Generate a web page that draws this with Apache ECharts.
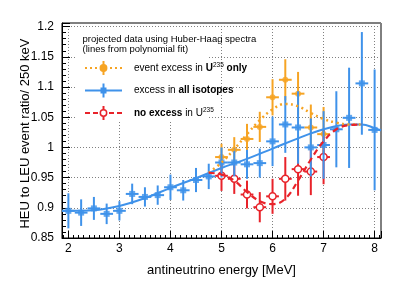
<!DOCTYPE html>
<html>
<head>
<meta charset="utf-8">
<script src="https://cdn.jsdelivr.net/npm/echarts@6/dist/echarts.min.js"></script>
<style>
html,body{margin:0;padding:0;background:#fff;}
#c{width:415px;height:281px;}
</style>
</head>
<body>
<div id="c"></div>
<script>
// ---- data ----
const energies = [2.0, 2.25, 2.5, 2.75, 3.0, 3.25, 3.5, 3.75, 4.0, 4.25, 4.5, 4.75, 5.0, 5.25, 5.5, 5.75, 6.0, 6.25, 6.5, 6.75, 7.0, 7.25, 7.5, 7.75, 8.0];
const allIsotopes = [0.895, 0.892, 0.899, 0.890, 0.895, 0.923, 0.918, 0.921, 0.934, 0.929, 0.946, 0.952, 0.975, 0.975, 0.972, 0.974, 1.010, 1.038, 1.033, 1.000, 1.004, 1.030, 1.049, 1.106, 1.029];
const allIsotopesErr = [0.029, 0.022, 0.019, 0.017, 0.016, 0.017, 0.016, 0.016, 0.021, 0.017, 0.020, 0.021, 0.025, 0.023, 0.024, 0.024, 0.041, 0.047, 0.060, 0.048, 0.056, 0.063, 0.083, 0.085, 0.100];

const excessEnergies = [5.0, 5.25, 5.5, 5.75, 6.0, 6.25, 6.5, 6.75, 7.0];
const u235Only = [0.984, 0.996, 1.014, 1.034, 1.083, 1.112, 1.089, 1.033, 1.022];
const u235OnlyErr = [0.022, 0.021, 0.025, 0.025, 0.030, 0.034, 0.036, 0.038, 0.045];
const noExcess = [0.953, 0.948, 0.922, 0.901, 0.919, 0.948, 0.964, 0.960, 0.984];
const noExcessErr = [0.025, 0.025, 0.023, 0.025, 0.029, 0.036, 0.044, 0.039, 0.045];

const binHalfWidth = 0.125;

// polynomial-fit curves
const fitAllX = [1.875, 2.0, 2.5, 3.0, 3.5, 4.0, 4.5, 5.0, 5.5, 6.0, 6.5, 7.0, 7.5, 7.75, 8.0, 8.125];
const fitAll  = [0.895, 0.895, 0.896, 0.903, 0.916, 0.933, 0.949, 0.966, 0.981, 0.998, 1.015, 1.030, 1.038, 1.038, 1.032, 1.028];
const fitU235X = [4.75, 5.0, 5.25, 5.5, 5.75, 6.0, 6.25, 6.5, 6.75, 7.0, 7.25, 7.5, 7.75];
const fitU235  = [0.958, 0.975, 0.997, 1.022, 1.045, 1.063, 1.072, 1.068, 1.057, 1.047, 1.041, 1.038, 1.038];
const fitNoX = [4.75, 5.0, 5.25, 5.5, 5.75, 6.0, 6.25, 6.5, 6.75, 7.0, 7.25, 7.5, 7.75];
const fitNo  = [0.958, 0.955, 0.945, 0.926, 0.911, 0.906, 0.915, 0.945, 0.980, 1.010, 1.030, 1.037, 1.038];

const yTicks = ['0.85', '0.9', '0.95', '1', '1.05', '1.1', '1.15', '1.2'];
const xTicks = ['2', '3', '4', '5', '6', '7', '8'];

const headerLines = ['projected data using Huber-Haag spectra', '(lines from polynomial fit)'];
const xTitle = 'antineutrino energy [MeV]';
const yTitle = 'HEU to LEU event ratio/ 250 keV';

// ---- styles ----
const BLUE = '#3f92ea';
const ORANGE = '#f6a424';
const RED = '#e8232a';
const FONT = '"Liberation Sans", Arial, Helvetica, sans-serif';

function zip3(xs, ys, es) { return xs.map((x, i) => [x, ys[i], es[i]]); }
function zip2(xs, ys) { return xs.map((x, i) => [x, ys[i]]); }

function errRender(color) {
  return function (params, api) {
    const x = api.value(0), y = api.value(1), e = api.value(2);
    const l = api.coord([x - binHalfWidth, y]), r = api.coord([x + binHalfWidth, y]);
    const t = api.coord([x, y + e]), b = api.coord([x, y - e]);
    return {
      type: 'group',
      children: [
        { type: 'line', shape: { x1: l[0], y1: l[1], x2: r[0], y2: r[1] }, style: { stroke: color, lineWidth: 2 } },
        { type: 'line', shape: { x1: t[0], y1: t[1], x2: b[0], y2: b[1] }, style: { stroke: color, lineWidth: 2 } }
      ]
    };
  };
}

const chart = echarts.init(document.getElementById('c'), null, { renderer: 'canvas' });

const legendRows = [
  { y: 68, color: ORANGE, lineType: [2, 3], symbol: 'circle', fill: ORANGE, text: '{n|event excess in }{b|U}{sup|235}{b| only}' },
  { y: 90.5, color: BLUE, lineType: 'solid', symbol: 'rect', fill: BLUE, text: '{n|excess in }{b|all isotopes}' },
  { y: 113, color: RED, lineType: [5, 3], symbol: 'circle', fill: '#fff', text: '{b|no excess}{n| in U}{sup|235}' }
];

const rich = {
  n: { fontSize: 10, fontFamily: FONT, color: '#000' },
  b: { fontSize: 10, fontFamily: FONT, fontWeight: 'bold', color: '#000' },
  sup: { fontSize: 6.5, fontFamily: FONT, color: '#000', padding: [0, 0, 6, 0] }
};

const graphics = [
  { type: 'rect', z: 1, shape: { x: 75, y: 29, width: 132, height: 92 }, style: { fill: '#fff' } },
  { type: 'text', z: 5, x: 82.5, y: 39, style: { text: headerLines[0], font: '9.5px ' + FONT, fill: '#000', verticalAlign: 'middle' } },
  { type: 'text', z: 5, x: 82.5, y: 49.5, style: { text: headerLines[1], font: '9.5px ' + FONT, fill: '#000', verticalAlign: 'middle' } },
  { type: 'text', z: 5, x: 221.5, y: 270, style: { text: xTitle, font: '13px ' + FONT, fill: '#000', align: 'center', verticalAlign: 'middle' } },
  { type: 'text', z: 5, x: 25.5, y: 133.5, rotation: Math.PI / 2, style: { text: yTitle, font: '13px ' + FONT, fill: '#000', align: 'center', verticalAlign: 'middle' } }
];
legendRows.forEach(r => {
  graphics.push({ type: 'line', z: 5, shape: { x1: 85, y1: r.y, x2: 122, y2: r.y }, style: { stroke: r.color, lineWidth: 2, lineDash: r.lineType === 'solid' ? null : r.lineType } });
  graphics.push({ type: 'line', z: 5, shape: { x1: 103.5, y1: r.y - 7, x2: 103.5, y2: r.y + 7 }, style: { stroke: r.color, lineWidth: 2 } });
  if (r.symbol === 'rect') {
    graphics.push({ type: 'rect', z: 6, shape: { x: 100.5, y: r.y - 3, width: 6, height: 6 }, style: { fill: r.fill } });
  } else {
    graphics.push({ type: 'circle', z: 6, shape: { cx: 103.5, cy: r.y, r: 3.2 }, style: { fill: r.fill, stroke: r.color, lineWidth: 1.5 } });
  }
  graphics.push({ type: 'text', z: 5, x: 134, y: r.y, style: { text: r.text, rich: rich, verticalAlign: 'middle' } });
});

const option = {
  animation: false,
  backgroundColor: '#fff',
  grid: { left: 62, right: 34, top: 23, bottom: 43, show: true, borderColor: '#000', borderWidth: 1, backgroundColor: 'transparent' },
  xAxis: {
    type: 'value', min: 1.875, max: 8.125, splitNumber: 6,
    axisLine: { show: true, onZero: false, lineStyle: { color: '#000', width: 1 } },
    axisTick: { show: true, inside: true, length: 7, lineStyle: { color: '#000' } },
    minorTick: { show: true, splitNumber: 10, length: 3, lineStyle: { color: '#000' } },
    splitLine: { show: true, lineStyle: { color: '#808080', type: [1, 2], width: 1 } },
    axisLabel: {
      fontSize: 12, color: '#000', fontFamily: FONT, margin: 5, showMinLabel: false, showMaxLabel: false,
      formatter: v => { const s = String(Math.round(v)); return xTicks.indexOf(s) >= 0 && Math.abs(v - Math.round(v)) < 1e-6 ? s : ''; }
    }
  },
  yAxis: {
    type: 'value', min: 0.85, max: 1.206, interval: 0.05,
    axisLine: { show: true, onZero: false, lineStyle: { color: '#000', width: 1 } },
    axisTick: { show: true, inside: true, length: 8, lineStyle: { color: '#000' } },
    minorTick: { show: true, splitNumber: 5, length: 4, lineStyle: { color: '#000' } },
    splitLine: { show: true, lineStyle: { color: '#808080', type: [1, 2], width: 1 } },
    axisLabel: {
      fontSize: 12, color: '#000', fontFamily: FONT, margin: 8, showMaxLabel: false,
      formatter: v => { const s = String(+v.toFixed(2)); return yTicks.indexOf(s) >= 0 ? s : ''; }
    }
  },
  graphic: graphics,
  series: [
    { type: 'custom', z: 3, renderItem: errRender(ORANGE), data: zip3(excessEnergies, u235Only, u235OnlyErr), encode: { x: 0, y: 1 } },
    { type: 'scatter', z: 4, symbol: 'circle', symbolSize: 6, itemStyle: { color: ORANGE }, data: zip2(excessEnergies, u235Only) },
    { type: 'custom', z: 3, renderItem: errRender(RED), data: zip3(excessEnergies, noExcess, noExcessErr), encode: { x: 0, y: 1 } },
    { type: 'scatter', z: 4, symbol: 'circle', symbolSize: 7, itemStyle: { color: '#fff', borderColor: RED, borderWidth: 1.5, opacity: 1 }, data: zip2(excessEnergies, noExcess) },
    { type: 'custom', z: 5, renderItem: errRender(BLUE), data: zip3(energies, allIsotopes, allIsotopesErr), encode: { x: 0, y: 1 } },
    { type: 'scatter', z: 6, symbol: 'rect', symbolSize: 6, itemStyle: { color: BLUE }, data: zip2(energies, allIsotopes) },
    { type: 'line', z: 7, smooth: 0.4, symbol: 'none', lineStyle: { color: BLUE, width: 2 }, data: zip2(fitAllX, fitAll) },
    { type: 'line', z: 8, smooth: 0.4, symbol: 'none', lineStyle: { color: ORANGE, width: 2.5, type: [2, 3.5] }, data: zip2(fitU235X, fitU235) },
    { type: 'line', z: 8, smooth: 0.4, symbol: 'none', lineStyle: { color: RED, width: 2.2, type: [6, 4] }, data: zip2(fitNoX, fitNo) }
  ]
};
chart.setOption(option);
</script>
</body>
</html>
